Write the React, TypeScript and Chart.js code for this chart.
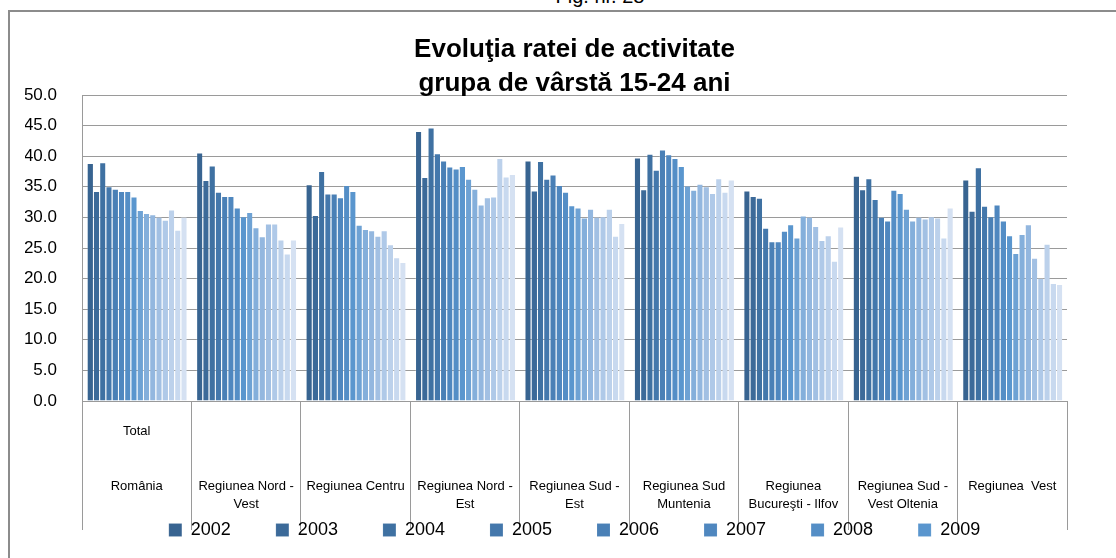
import React, { useEffect, useRef } from "react";
import { Chart, registerables } from "chart.js";

Chart.register(...registerables);

const FONT = '"Liberation Sans", Arial, sans-serif';

const categoryLabels: string[][] = [
  ["Total", "", "", "România"],
  ["", "", "", "Regiunea Nord -", "Vest"],
  ["", "", "", "Regiunea Centru"],
  ["", "", "", "Regiunea Nord -", "Est"],
  ["", "", "", "Regiunea Sud -", "Est"],
  ["", "", "", "Regiunea Sud", "Muntenia"],
  ["", "", "", "Regiunea", "Bucureşti - Ilfov"],
  ["", "", "", "Regiunea Sud -", "Vest Oltenia"],
  ["", "", "", "Regiunea  Vest"],
];

const seriesLabels = [
  "2002", "2003", "2004", "2005", "2006", "2007", "2008", "2009",
  "2002 ", "2003 ", "2004 ", "2005 ", "2006 ", "2007 ", "2008 ", "2009 ",
];

// values of the 16 bars in each region group
const romania = [38.9, 34.3, 39.0, 35.1, 34.7, 34.3, 34.3, 33.4, 31.2, 30.7, 30.5, 30.1, 29.6, 31.3, 28.0, 30.1];
const nordVest = [40.6, 36.1, 38.5, 34.2, 33.5, 33.5, 31.6, 30.2, 30.9, 28.4, 26.9, 29.0, 29.0, 26.4, 24.1, 26.4];
const centru = [35.4, 30.4, 37.6, 33.9, 33.9, 33.3, 35.3, 34.3, 28.8, 28.1, 27.9, 27.0, 27.9, 25.6, 23.5, 22.7];
const nordEst = [44.1, 36.6, 44.7, 40.5, 39.3, 38.3, 38.0, 38.4, 36.3, 34.7, 32.1, 33.3, 33.4, 39.7, 36.7, 37.1];
const sudEst = [39.3, 34.4, 39.2, 36.3, 37.0, 35.3, 34.2, 32.0, 31.6, 30.0, 31.4, 30.1, 30.2, 31.4, 27.0, 29.1];
const sudMuntenia = [39.8, 34.6, 40.4, 37.8, 41.1, 40.3, 39.7, 38.4, 35.2, 34.5, 35.5, 35.1, 34.0, 36.4, 34.2, 36.2];
const bucurestiIlfov = [34.4, 33.5, 33.2, 28.3, 26.1, 26.1, 27.8, 28.9, 26.7, 30.3, 30.1, 28.6, 26.3, 27.1, 22.9, 28.5];
const sudVestOltenia = [36.8, 34.6, 36.4, 33.0, 30.1, 29.5, 34.5, 34.0, 31.4, 29.5, 30.1, 29.8, 30.2, 30.0, 26.7, 31.6];
const vest = [36.2, 31.1, 38.2, 31.9, 30.2, 32.1, 29.5, 27.1, 24.2, 27.3, 28.9, 23.4, 20.1, 25.7, 19.3, 19.1];

const groups = [romania, nordVest, centru, nordEst, sudEst, sudMuntenia, bucurestiIlfov, sudVestOltenia, vest];

const seriesColors = [
  "#386491", "#3c6a99", "#3f71a2", "#4478ac", "#4a80b6", "#4f87bf", "#548ec6", "#5a96ce",
  "#6ea2d4", "#84afdb", "#93b7df", "#a2c0e3", "#afc9e8", "#bcd1eb", "#c8d9ef", "#d5e1f2",
];

const yTicks = [0, 5, 10, 15, 20, 25, 30, 35, 40, 45, 50];

export default function App() {
  const ref = useRef<HTMLCanvasElement | null>(null);

  useEffect(() => {
    if (!ref.current) return;
    const datasets = seriesLabels.map((label, s) => ({
      label,
      data: groups.map((g) => g[s]),
      backgroundColor: seriesColors[s],
      borderColor: "rgba(255,255,255,0.22)",
      borderWidth: { top: 1, left: 1, right: 0, bottom: 0 },
      categoryPercentage: 0.914,
      barPercentage: 1.0,
    }));

    const chart = new Chart(ref.current, {
      type: "bar",
      data: { labels: categoryLabels, datasets },
      options: {
        responsive: false,
        animation: false,
        devicePixelRatio: 1,
        font: { family: FONT },
        layout: { padding: { left: 25, right: 49, top: 0, bottom: 9 } },
        plugins: {
          title: {
            display: true,
            fullSize: false,
            text: ["Evoluţia ratei de activitate", "grupa de vârstă 15-24 ani"],
            color: "#000",
            font: { family: FONT, size: 26, weight: "bold", lineHeight: 34 / 26 },
            padding: { top: 33, bottom: -6 },
          },
          legend: {
            display: true,
            position: "bottom",
            fullSize: false,
            labels: {
              color: "#000",
              font: { family: FONT, size: 18 },
              boxWidth: 13,
              boxHeight: 13,
              padding: 45,
              filter: (item: any) => item.datasetIndex < 8,
            },
          },
          tooltip: { enabled: false },
        },
        scales: {
          x: {
            offset: true,
            grid: {
              display: true,
              offset: true,
              drawOnChartArea: false,
              drawTicks: true,
              tickLength: 129,
              color: "#9a9a9a",
            },
            border: { display: true, color: "#9a9a9a" },
            ticks: {
              color: "#000",
              font: { family: FONT, size: 13, lineHeight: 1.4 },
              mirror: true,
              padding: -40,
              maxRotation: 0,
              minRotation: 0,
              autoSkip: false,
            },
            afterFit: (s: any) => {
              s.height = 75;
            },
          },
          y: {
            min: 0,
            max: 50,
            afterBuildTicks: (s: any) => {
              s.ticks = yTicks.map((v) => ({ value: v }));
            },
            grid: { color: "#9a9a9a", drawTicks: false },
            border: { display: true, color: "#9a9a9a" },
            ticks: {
              color: "#000",
              font: { family: FONT, size: 17 },
              padding: 25,
              callback: (v: any) => Number(v).toFixed(1),
            },
            afterFit: (s: any) => {
              s.width = 57;
            },
          },
        },
      },
    });
    return () => chart.destroy();
  }, []);

  return (
    <div>
      <div
        style={{
          position: "absolute",
          left: 8,
          top: 10,
          width: 1106,
          height: 546,
          borderTop: "2px solid #8c8c8c",
          borderLeft: "2px solid #8c8c8c",
        }}
      />
      <div
        style={{
          position: "absolute",
          left: 500,
          top: -14,
          width: 200,
          textAlign: "center",
          fontFamily: FONT,
          fontSize: 20,
          lineHeight: "20px",
          color: "#000",
        }}
      >
        Fig. nr. 28
      </div>
      <canvas
        ref={ref}
        width={1116}
        height={558}
        style={{ position: "absolute", left: 0, top: 0, width: 1116, height: 558 }}
      />
    </div>
  );
}
